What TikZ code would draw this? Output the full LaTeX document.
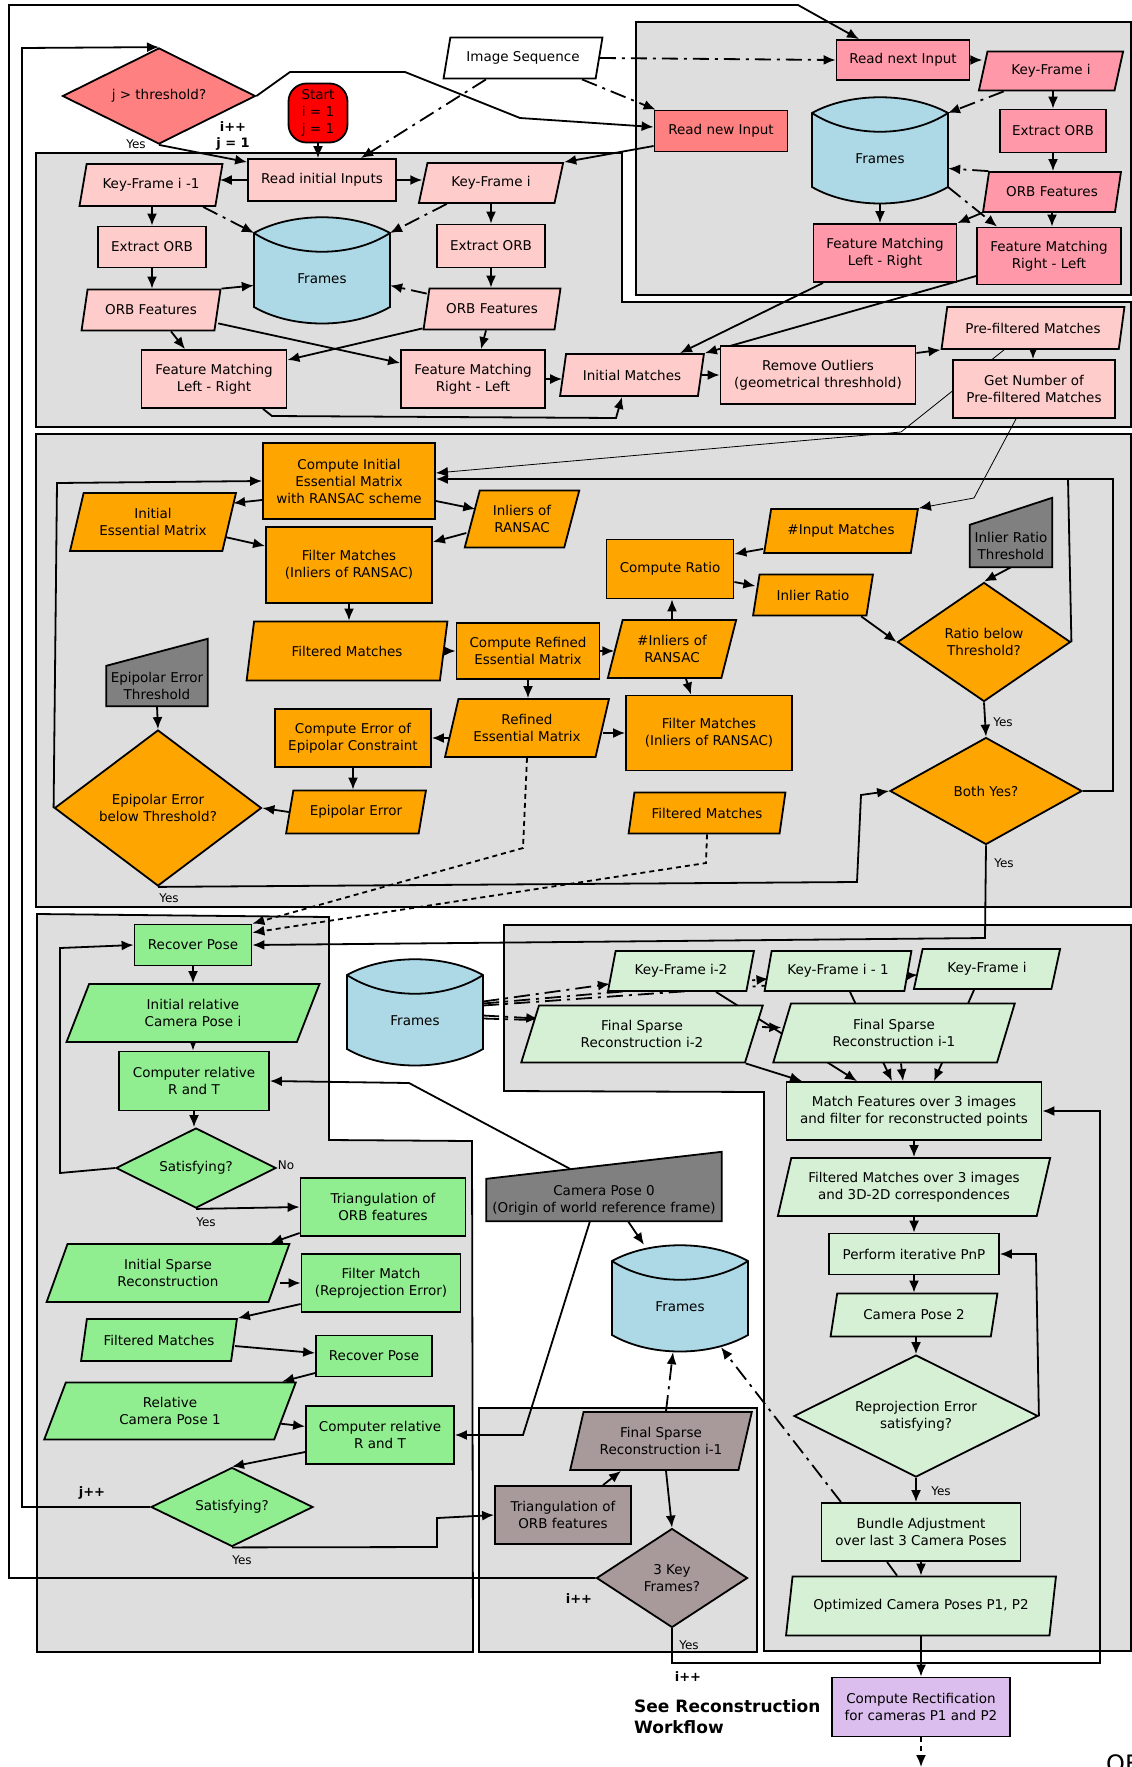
\documentclass[tikz,border=0pt]{standalone}
\usepackage{fontspec}
\setmainfont{DejaVu Sans}
\usetikzlibrary{shapes.geometric,arrows.meta}
\pgfdeclarelayer{boxes}\pgfdeclarelayer{conn}\pgfdeclarelayer{shp}
\pgfsetlayers{boxes,conn,shp,main}
\definecolor{gbox}{RGB}{222,222,222}
\definecolor{pinkA}{RGB}{255,204,204}
\definecolor{pinkB}{RGB}{255,153,170}
\definecolor{salm}{RGB}{255,128,128}
\definecolor{orng}{RGB}{255,165,0}
\definecolor{mgray}{RGB}{128,128,128}
\definecolor{grn}{RGB}{144,238,144}
\definecolor{lgrn}{RGB}{214,240,214}
\definecolor{brn}{RGB}{168,154,154}
\definecolor{lav}{RGB}{220,190,238}
\definecolor{cblue}{RGB}{173,216,230}
\newcommand\fs{\fontsize{13.5}{17}\selectfont}
\tikzset{
 lw/.style={line width=1.8pt},
 nd/.style={draw, lw, font=\fs, align=center, inner sep=1pt},
 bx/.style 2 args={nd, rectangle, minimum width=#1pt, minimum height=#2pt},
 pg/.style 2 args={nd, trapezium, trapezium left angle=70, trapezium right angle=110, trapezium stretches=true, minimum width=#1pt, minimum height=#2pt},
 dm/.style n args={3}{nd, diamond, aspect=#3, minimum width=#1pt, minimum height=#2pt, inner sep=0pt},
 txt/.style={font=\fs, align=center, inner sep=0pt},
 arr/.style={lw, -{Latex[length=12pt,width=10pt]}},
 dd/.style={dash pattern=on 16pt off 6pt on 3pt off 6pt},
 dt/.style={dash pattern=on 5pt off 4pt},
 thinl/.style={line width=0.8pt},
 lbl/.style={font=\fontsize{12}{14}\selectfont, inner sep=0pt},
 blbl/.style={font=\bfseries\fontsize{13}{15}\selectfont, inner sep=0pt},
 gb/.style={lw, fill=gbox},
}
\newcommand\cyl[3]{%
 \begin{scope}[shift={(#2,#3)}]
 \draw[lw, fill=cblue] (-68,0) .. controls (-30,-21) and (30,-21) .. (68,0) -- (68,74) .. controls (30,96) and (-30,96) .. (-68,74) -- cycle;
 \draw[lw] (-68,0) .. controls (-30,25) and (30,25) .. (68,0);
 \coordinate (#1-tl) at (-68,0);
 \coordinate (#1-tr) at (68,0);
 \coordinate (#1-bl) at (-68,74);
 \coordinate (#1-br) at (68,74);
 \node[inner sep=0pt, minimum width=136pt, minimum height=107pt] (#1) at (0,37.5) {};
 \node[txt] (#1t) at (0,46) {Frames};
 \end{scope}}
\begin{document}
\begin{tikzpicture}[x=1pt,y=-1pt]
\useasboundingbox (0,0) rectangle (1132,1767);
\begin{pgfonlayer}{boxes}
\fill[white] (0,0) rectangle (1132,1767);
\draw[gb] (636,22) rectangle (1131,295);
\draw[gb] (36,153) -- (622,153) -- (622,302) -- (1131,302) -- (1131,427) -- (36,427) -- cycle;
\draw[gb] (36,434) rectangle (1131,907);
\draw[gb] (37,914) -- (329,917) -- (329,1140) -- (472,1141) -- (473,1652) -- (37,1652) -- cycle;
\draw[gb] (479,1408) rectangle (757,1652);
\draw[gb] (504,925) -- (1131,925) -- (1131,1651) -- (764,1651) -- (764,1092) -- (504,1091) -- cycle;
\end{pgfonlayer}

% ---------- top
\node[dm={193}{96}{2}, fill=salm] (jt) at (159,96) {j > threshold?};
\node[nd, fill=red, rounded corners=18pt, minimum width=59pt, minimum height=59pt] (start) at (318,113) {Start\\i = 1\\j = 1};
\node[pg={159}{41}, fill=white] (img) at (523,58) {Image Sequence};

% ---------- upper right
\node[bx={133}{40}, fill=pinkB] (rni) at (903,60) {Read next Input};
\node[pg={145}{39}, fill=pinkB] (kfiR) at (1051,71) {Key-Frame i};
\node[bx={133}{41}, fill=salm] (rnew) at (721,131) {Read new Input};
\begin{pgfonlayer}{shp}\cyl{fra}{880}{113}\end{pgfonlayer}
\node[bx={106}{43}, fill=pinkB] (eoR) at (1053,131) {Extract ORB};
\node[pg={138}{40}, fill=pinkB] (ofR) at (1052,192) {ORB Features};
\node[bx={143}{58}, fill=pinkB] (fmLRa) at (885,253) {Feature Matching\\Left - Right};
\node[bx={144}{57}, fill=pinkB] (fmRLa) at (1049,256) {Feature Matching\\Right - Left};

% ---------- upper left
\node[bx={148}{42}, fill=pinkA] (rii) at (322,180) {Read initial Inputs};
\node[pg={143}{42}, fill=pinkA] (kfim) at (151,185) {Key-Frame i -1};
\node[pg={145}{40}, fill=pinkA] (kfiL) at (491,183) {Key-Frame i};
\node[bx={108}{41}, fill=pinkA] (eoa) at (152,247) {Extract ORB};
\node[bx={108}{43}, fill=pinkA] (eob) at (491,246) {Extract ORB};
\begin{pgfonlayer}{shp}\cyl{frb}{322}{233}\end{pgfonlayer}
\node[pg={139}{41}, fill=pinkA] (ofa) at (151,310) {ORB Features};
\node[pg={137}{41}, fill=pinkA] (ofb) at (492,309) {ORB Features};
\node[bx={145}{58}, fill=pinkA] (fmLRb) at (214,379) {Feature Matching\\Left - Right};
\node[bx={144}{58}, fill=pinkA] (fmRLb) at (473,379) {Feature Matching\\Right - Left};
\node[pg={144}{42}, fill=pinkA] (im) at (632,375) {Initial Matches};
\node[bx={195}{58}, fill=pinkA] (ro) at (818,375) {Remove Outliers\\(geometrical threshhold)};
\node[pg={183}{42}, fill=pinkA] (pfm) at (1033,328) {Pre-filtered Matches};
\node[bx={162}{58}, fill=pinkA] (gn) at (1034,389) {Get Number of\\Pre-filtered Matches};

% ---------- middle
\node[bx={172}{76}, fill=orng] (cie) at (349,481) {Compute Initial\\Essential Matrix\\with RANSAC scheme};
\node[pg={166}{58}, fill=orng] (iem) at (153,522) {Initial\\Essential Matrix};
\node[pg={115}{57}, fill=orng] (ior) at (522,519) {Inliers of\\RANSAC};
\node[bx={166}{76}, fill=orng] (fma) at (349,565) {Filter Matches\\(Inliers of RANSAC)};
\node[pg={201}{59}, fill=orng] (fdma) at (347,651) {Filtered Matches};
\node[bx={143}{56}, fill=orng] (cre) at (528,651) {Compute Refined\\Essential Matrix};
\node[pg={129}{58}, fill=orng] (nir) at (672,649) {\#Inliers of\\RANSAC};
\node[bx={127}{59}, fill=orng] (cr) at (670,569) {Compute Ratio};
\node[pg={154}{44}, fill=orng] (nim) at (841,531) {\#Input Matches};
\node[pg={120}{41}, fill=orng] (irt) at (813,595) {Inlier Ratio};
\node[txt, minimum width=82pt, minimum height=42pt] (irth) at (1011,546) {Inlier Ratio\\Threshold};
\node[dm={173}{119}{1.45}, fill=orng] (rbt) at (984,642) {Ratio below\\Threshold?};
\node[dm={192}{107}{1.8}, fill=orng] (by) at (986,791) {Both Yes?};
\node[pg={164}{58}, fill=orng] (rem) at (527,728) {Refined\\Essential Matrix};
\node[bx={166}{75}, fill=orng] (fmb) at (709,733) {Filter Matches\\(Inliers of RANSAC)};
\node[pg={157}{41}, fill=orng] (fdmb) at (707,813) {Filtered Matches};
\node[bx={156}{58}, fill=orng] (cee) at (353,738) {Compute Error of\\Epipolar Constraint};
\node[pg={140}{43}, fill=orng] (ee) at (356,812) {Epipolar Error};
\node[txt, minimum width=101pt, minimum height=40pt] (eeth) at (157,686) {Epipolar Error\\Threshold};
\node[dm={207}{156}{1.33}, fill=orng] (eebt) at (158,808) {Epipolar Error\\below Threshold?};

% ---------- lower left
\node[bx={117}{41}, fill=grn] (rpa) at (193,945) {Recover Pose};
\node[pg={253}{58}, fill=grn] (irc) at (193,1013) {Initial relative\\Camera Pose i};
\node[bx={150}{59}, fill=grn] (crta) at (194,1081) {Computer relative\\R and T};
\node[dm={160}{80}{2}, fill=grn] (sata) at (196,1168) {Satisfying?};
\node[bx={165}{58}, fill=grn] (tria) at (383,1207) {Triangulation of\\ORB features};
\node[pg={243}{58}, fill=grn] (isr) at (168,1273) {Initial Sparse\\Reconstruction};
\node[bx={159}{58}, fill=grn] (fmre) at (381,1283) {Filter Match\\(Reprojection Error)};
\node[pg={156}{42}, fill=grn] (fdmc) at (159,1340) {Filtered Matches};
\node[bx={116}{41}, fill=grn] (rpb) at (374,1356) {Recover Pose};
\node[pg={252}{57}, fill=grn] (rcp) at (170,1411) {Relative\\Camera Pose 1};
\node[bx={148}{58}, fill=grn] (crtb) at (380,1435) {Computer relative\\R and T};
\node[dm={162}{79}{2}, fill=grn] (satb) at (232,1507) {Satisfying?};

% ---------- brown
\node[pg={182}{58}, fill=brn] (fsb) at (661,1441) {Final Sparse\\Reconstruction i-1};
\node[bx={136}{58}, fill=brn] (trib) at (563,1515) {Triangulation of\\ORB features};
\node[dm={151}{99}{1.5}, fill=brn] (tkf) at (672,1578) {3 Key\\Frames?};

% ---------- camera pose 0 and frames
\node[txt, minimum width=235pt, minimum height=42pt] (cp0) at (604,1200) {Camera Pose 0\\(Origin of world reference frame)};
\begin{pgfonlayer}{shp}
\cyl{frc}{680}{1261}
\cyl{frd}{415}{975}
\draw[lw, fill=mgray] (eeth.south west) -- (eeth.south east) -- ([yshift=27pt]eeth.north east) -- (eeth.north west) -- cycle;
\draw[lw, fill=mgray] (irth.south west) -- (irth.south east) -- ([yshift=27pt]irth.north east) -- (irth.north west) -- cycle;
\draw[lw, fill=mgray] (cp0.south west) -- (cp0.south east) -- ([yshift=27pt]cp0.north east) -- (cp0.north west) -- cycle;
\end{pgfonlayer}

% ---------- lower right
\node[pg={146}{40}, fill=lgrn] (kf2) at (681,971) {Key-Frame i-2};
\node[pg={147}{40}, fill=lgrn] (kf1) at (838,971) {Key-Frame i - 1};
\node[pg={147}{40}, fill=lgrn] (kf0) at (987,969) {Key-Frame i};
\node[pg={242}{57}, fill=lgrn] (fs2) at (642,1034) {Final Sparse\\Reconstruction i-2};
\node[pg={242}{59}, fill=lgrn] (fs1) at (894,1033) {Final Sparse\\Reconstruction i-1};
\node[bx={255}{58}, fill=lgrn] (mf) at (914,1111) {Match Features over 3 images\\and filter for reconstructed points};
\node[pg={273}{58}, fill=lgrn] (fm3) at (914,1187) {Filtered Matches over 3 images\\and 3D-2D correspondences};
\node[bx={170}{41}, fill=lgrn] (pnp) at (914,1254) {Perform iterative PnP};
\node[pg={167}{43}, fill=lgrn] (cp2) at (914,1315) {Camera Pose 2};
\node[dm={244}{122}{2}, fill=lgrn] (rpe) at (916,1416) {Reprojection Error\\satisfying?};
\node[bx={199}{58}, fill=lgrn] (ba) at (921,1532) {Bundle Adjustment\\over last 3 Camera Poses};
\node[pg={270}{59}, fill=lgrn] (ocp) at (921,1606) {Optimized Camera Poses P1, P2};
\node[bx={178}{59}, fill=lav] (rect) at (921,1707) {Compute Rectification\\for cameras P1 and P2};

% ---------- labels
\node[lbl] (l1) at (136,144) {Yes};
\node[blbl] (l2) at (233,127) {i++};
\node[blbl] (l3) at (233,144) {j = 1};
\node[lbl] (l4) at (1003,722) {Yes};
\node[lbl] (l5) at (1004,863) {Yes};
\node[lbl] (l6) at (169,898) {Yes};
\node[lbl] (l7) at (286,1165) {No};
\node[lbl] (l8) at (206,1222) {Yes};
\node[blbl] (l9) at (92,1493) {j++};
\node[lbl] (l10) at (242,1560) {Yes};
\node[blbl] (l11) at (579,1599) {i++};
\node[lbl] (l12) at (689,1645) {Yes};
\node[blbl] (l13) at (688,1677) {i++};
\node[lbl] (l14) at (941,1491) {Yes};
\node[font=\bfseries\fontsize{17}{21}\selectfont, align=left, anchor=west, inner sep=0pt] (see) at (634,1717) {See Reconstruction\\Workflow};
\node[font=\fontsize{24}{28}\selectfont, anchor=north west, inner sep=0pt] (of) at (1106,1754) {OF};

% ---------- connectors
\begin{pgfonlayer}{conn}
\draw[arr] (tkf.west) -- (9,1578) -- (9,5) -- (798,5) -- ([xshift=-44pt]rni.north);
\draw[arr] (satb.west) -- (22,1507) -- (22,48) -- (jt.north);
\draw[arr] (jt.east) -- (290,72) -- (405,72) -- (520,118) -- ([yshift=4pt]rnew.west);
\draw[arr] (jt.south) -- ([yshift=-4pt]rii.north west);
\draw[arr] (start.south) -- (start.south |- rii.north);
\draw[arr,dd] ([xshift=-37pt]img.south) -- ([xshift=39pt]rii.north);
\draw[arr,dd] (img.east) -- (rni.west);
\draw[arr,dd] ([xshift=59pt]img.south) -- ([xshift=2pt]rnew.north west);
\draw[arr] ([yshift=-15pt]rnew.west) -- (kfiL.top right corner);
% upper right
\draw[arr] (rni.east) -- (rni.east -| kfiR.west);
\draw[arr] (eoR.north |- kfiR.south) -- (eoR.north);
\draw[arr,dd] ([xshift=26pt]kfiR.bottom left corner) -- (fra-tr);
\draw[arr] (eoR.south) -- (eoR.south |- ofR.north);
\draw[arr,dd] (ofR.top left corner) -- ([yshift=-18pt]fra.east);
\draw[arr] (fra.south) -- (fra.south |- fmLRa.north);
\draw[arr,dd] (fra-br) -- ([xshift=21pt]fmRLa.north west);
\draw[arr] (ofR.bottom left corner) -- (fmLRa.north east);
\draw[arr] (ofR.south) -- (ofR.south |- fmRLa.north);
\draw[arr] ([xshift=-62pt]fmLRa.south) -- ([xshift=48pt]im.north);
\draw[arr] ([yshift=-20pt]fmRLa.west) -- (im.top right corner);
% upper left
\draw[arr] (rii.west) -- (rii.west -| kfim.east);
\draw[arr] (rii.east) -- (rii.east -| kfiL.west);
\draw[arr] (eoa.north |- kfim.south) -- (eoa.north);
\draw[arr] (eoa.south) -- (eoa.south |- ofa.north);
\draw[arr,dd] ([xshift=-13pt]kfim.bottom right corner) -- (frb-tl);
\draw[arr,dd] ([xshift=29pt]kfiL.bottom left corner) -- (frb-tr);
\draw[arr] (eob.north |- kfiL.south) -- (eob.north);
\draw[arr] (eob.south) -- (eob.south |- ofb.north);
\draw[arr] (ofa.top right corner) -- ([yshift=-15pt]frb.west);
\draw[arr,dd] ([xshift=-2pt,yshift=-6pt]ofb.top left corner) -- ([yshift=-15pt]frb.east);
\draw[arr] ([xshift=20pt]ofa.south) -- ([xshift=-29pt]fmLRb.north);
\draw[arr] ([xshift=3pt,yshift=8pt]ofa.bottom right corner) -- ([yshift=16pt]fmRLb.west);
\draw[arr] ([yshift=2pt]ofb.bottom left corner) -- ([yshift=19pt]fmLRb.east);
\draw[arr] ([xshift=-6pt]ofb.south) -- ([xshift=8pt]fmRLb.north);
\draw[arr] (fmRLb.east) -- (fmRLb.east -| im.west);
\draw[arr] ([xshift=49pt]fmLRb.south) -- (272,416) -- (616,418) -- ([xshift=-10pt]im.south);
\draw[arr] (im.east) -- (im.east -| ro.west);
\draw[arr] ([yshift=22pt]ro.east) -- (pfm.bottom left corner);
\draw[arr] (pfm.south) -- (pfm.south |- gn.north);
\draw[arr,thinl] ([xshift=-29pt]pfm.south) -- (901,432) -- ([yshift=8pt]cie.east);
\draw[arr,thinl] ([xshift=-18pt]gn.south) -- (974,498) -- (nim.top right corner);
% middle
\draw[arr] ([yshift=-19pt]cie.west) -- ([xshift=-4pt,yshift=-11pt]iem.top right corner);
\draw[arr] ([yshift=-20pt]cie.east) -- ([xshift=4pt,yshift=10pt]ior.west);
\draw[arr] ([xshift=-5pt,yshift=-15pt]iem.east) -- ([yshift=19pt]fma.west);
\draw[arr] ([xshift=-5pt,yshift=-14pt]ior.west) -- ([yshift=23pt]fma.east);
\draw[arr] (fma.south) -- (fma.south |- fdma.north);
\draw[arr] (fdma.east) -- (fdma.east -| cre.west);
\draw[arr] (cre.east) -- (cre.east -| nir.west);
\draw[arr] (cre.south) -- (cre.south |- rem.north);
\draw[arr] (nir.north) -- (nir.north |- cr.south);
\draw[arr] ([xshift=14pt]nir.south) -- ([xshift=-18pt]fmb.north);
\draw[arr] ([yshift=5pt]nim.bottom left corner) -- ([yshift=15pt]cr.east);
\draw[arr] ([yshift=-13pt]cr.east) -- ([yshift=9pt]irt.west);
\draw[arr] ([xshift=-6pt]irt.bottom right corner) -- (rbt.west);
\draw[arr] (irth.south) -- (rbt.north);
\draw[arr] (rbt.south) -- (by.north);
\coordinate (jn) at (1068,479);
\draw[arr] (rbt.east) -- (jn) -- ([yshift=2pt]cie.east);
\draw[lw] (by.east) -- (1113,791) -- (1113,479) -- (jn);
\draw[arr] (by.south) -- (985,938) -- (rpa.east);
\draw[arr] (rem.west |- cee.east) -- (cee.east);
\draw[arr] (rem.east |- fmb.west) -- (fmb.west);
\draw[arr] (cee.south) -- (cee.south |- ee.north);
\draw[arr] (ee.west) -- (eebt.east);
\draw[arr] (eeth.south) -- (eebt.north);
\draw[arr] (eebt.west) -- (57,483) -- (cie.west);
\draw[arr] (eebt.south) -- (857,882) -- (861,795) -- (by.west);
\draw[arr,dt] (rem.south) -- (523,848) -- (rpa.north east);
\draw[arr,dt] (fdmb.south) -- (706,863) -- ([yshift=-9pt]rpa.north east);
% lower left
\draw[arr] (rpa.south) -- (rpa.south |- irc.north);
\draw[arr] (irc.south) -- (irc.south |- crta.north);
\draw[arr] (crta.south) -- (crta.south |- sata.north);
\draw[arr] (sata.west) -- (60,1173) -- (60,948) -- (rpa.west);
\draw[arr] (sata.south) -- (tria.west);
\draw[arr] ([yshift=-26pt]tria.west) -- ([xshift=-20pt]isr.top right corner);
\draw[arr] (isr.east |- fmre.west) -- (fmre.west);
\draw[arr] ([yshift=-21pt]fmre.west) -- (fdmc.top right corner);
\draw[arr] ([yshift=-6pt]fdmc.east) -- ([yshift=3pt]rpb.west);
\draw[arr] ([yshift=-17pt]rpb.west) -- ([xshift=-15pt]rcp.top right corner);
\draw[arr] (rcp) -- (crtb);
\draw[arr] ([yshift=-17pt]crtb.west) -- (satb.north);
\draw[arr] (satb.south) -- (437,1547) -- (437,1518) -- (trib.west);
% brown
\draw[arr] ([xshift=40pt]trib.north) -- ([xshift=-40pt]fsb.south);
\draw[arr] ([xshift=5pt]fsb.south) -- (tkf.north);
\draw[arr,dd] ([xshift=5pt]fsb.north) -- ([xshift=-7pt]frc.south);
\draw[arr] (tkf.south) -- (672,1663) -- (1100,1663) -- (1100,1111) -- (mf.east);
% camera pose 0
\draw[arr] ([xshift=-34pt,yshift=10pt]cp0.north) -- (409,1083) -- (crta.east);
\draw[arr] ([xshift=-14pt]cp0.south) -- (523,1435) -- (crtb.east);
\draw[arr] ([xshift=24pt]cp0.south) -- ([xshift=-36pt]frc.north);
\draw[arr,dd] ([xshift=-80pt]ba.north) -- ([xshift=41pt,yshift=5pt]frc.south);
% lower right
\draw[arr,dd] ([yshift=11pt]frd.east) -- ([xshift=3pt,yshift=8pt]kf2.bottom left corner);
\draw[arr,dd] ([yshift=9pt]frd.east) -- ([xshift=5pt,yshift=13pt]kf1.bottom left corner);
\draw[arr,dd] ([yshift=7pt]frd.east) -- ([xshift=5pt,yshift=15pt]kf0.bottom left corner);
\draw[arr,dd] ([yshift=-3pt]frd.east) -- ([yshift=-14pt]fs2.top left corner);
\draw[arr,dd] ([yshift=-6pt]frd.east) -- ([xshift=-9pt,yshift=-25pt]fs1.top left corner);
\draw[arr] ([xshift=35pt]kf2.south) -- ([xshift=-57pt]mf.north);
\draw[arr] ([xshift=12pt]kf1.south) -- ([xshift=-22pt]mf.north);
\draw[arr] ([xshift=-13pt]kf0.south) -- ([xshift=20pt]mf.north);
\draw[arr] ([xshift=7pt]fs1.south) -- ([xshift=-11pt]mf.north);
\draw[arr] (fs2.bottom right corner) -- ([xshift=-112pt]mf.north);
\draw[arr] (mf.south) -- (mf.south |- fm3.north);
\draw[arr] (fm3.south) -- (fm3.south |- pnp.north);
\draw[arr] (pnp.south) -- (pnp.south |- cp2.north);
\draw[arr] (rpe.north |- cp2.south) -- (rpe.north);
\draw[arr] (rpe.south) -- (rpe.south |- ba.north);
\draw[arr] (ba.south) -- (ba.south |- ocp.north);
\draw[lw] ([xshift=-34pt]ba.south) -- ([xshift=-24pt]ocp.north);
\draw[arr] (ocp.south) -- (ocp.south |- rect.north);
\draw[arr] (rpe.east) -- (1036,1254) -- (pnp.east);
\coordinate (endp) at (921,1767);
\draw[arr,dt] (rect.south) -- (endp);
\end{pgfonlayer}
\end{tikzpicture}
\end{document}
